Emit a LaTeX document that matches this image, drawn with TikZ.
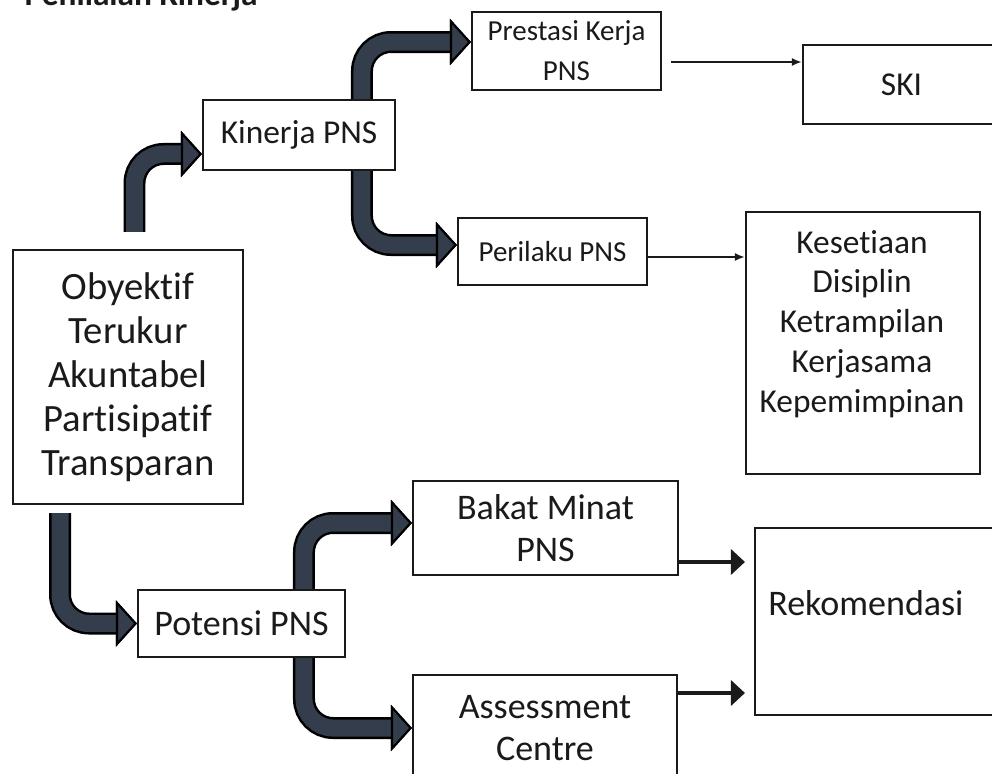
\documentclass[tikz,border=0pt]{standalone}
\usepackage{fontspec}
\setmainfont{Carlito}[Ligatures=NoCommon]
\usetikzlibrary{arrows.meta,positioning,backgrounds}
\definecolor{flowgray}{HTML}{343D4C}
\definecolor{inkblack}{HTML}{1A1A1A}

\tikzset{
  box/.style={rectangle, draw=inkblack, line width=1.2pt, fill=white, align=center, text=inkblack, inner sep=0pt},
  plain/.style={align=center, text=inkblack, inner sep=0pt},
  hugefont/.style={font=\fontsize{22pt}{25pt}\selectfont},
  bigfont/.style={font=\fontsize{20.5pt}{23.5pt}\selectfont},
  midfont/.style={font=\fontsize{19pt}{22.7pt}\selectfont},
  smallfont/.style={font=\fontsize{16.5pt}{22.7pt}\selectfont},
  flowout/.style={line width=0.44cm, draw=black, rounded corners=0.58cm,
    -{Triangle[width=0.92cm,length=0.42cm,line width=1.2pt,color=black,fill=flowgray]}},
  flowin/.style={line width=0.34cm, draw=flowgray, rounded corners=0.58cm,
    -{Triangle[width=0.92cm,length=0.42cm,line width=1.2pt,color=black,fill=flowgray]}},
  thinarrow/.style={draw=inkblack, line width=1.5pt, -{Latex[length=0.2cm,width=0.16cm]}},
  boldarrow/.style={draw=inkblack, line width=2.4pt, -{Triangle[length=0.28cm,width=0.5cm]}}
}

\newcommand\thickflow[3][]{%
  \draw[flowout,#1] #2 |- #3;
  \draw[flowin,#1] #2 |- #3;}

\begin{document}
\begin{tikzpicture}[x=0.02cm, y=-0.02cm]
  \useasboundingbox (0,0) rectangle (992,774);

  % Title (cut off at the top)
  \node[anchor=base east, text=inkblack, inner sep=0pt, font=\fontsize{19pt}{22pt}\selectfont\bfseries] (judul) at (258,6) {Penilaian Kinerja};

  % Boxes
  \node[box, hugefont, minimum width=4.6cm, minimum height=5.08cm] (obyektif) at (128,377) {Obyektif\\Terukur\\Akuntabel\\Partisipatif\\Transparan};
  \node[box, midfont, minimum width=3.84cm, minimum height=1.4cm] (kinerja) at (299,135) {Kinerja PNS};
  \node[box, smallfont, minimum width=3.78cm, minimum height=1.56cm] (prestasi) at (566.5,51) {Prestasi Kerja\\PNS};
  \node[box, smallfont, minimum width=3.78cm, minimum height=1.34cm] (perilaku) at (552.5,251.5) {Perilaku PNS};
  \node[box, midfont, minimum width=3.94cm, minimum height=1.58cm] (ski) at (901.5,84.5) {SKI};
  \node[box, minimum width=4.68cm, minimum height=5.24cm] (kesetiaan) at (863,343) {};
  \node[plain, midfont] (kesetiaanisi) at (862,324) {Kesetiaan\\Disiplin\\Ketrampilan\\Kerjasama\\Kepemimpinan};

  \node[box, bigfont, minimum width=4.14cm, minimum height=1.34cm] (potensi) at (241.5,623.5) {Potensi PNS};
  \node[box, bigfont, minimum width=5.3cm, minimum height=1.88cm] (bakat) at (545.5,528) {Bakat Minat\\PNS};
  \node[box, bigfont, minimum width=5.28cm, minimum height=2.12cm] (assessment) at (545,728) {Assessment\\Centre};
  \node[box, minimum width=4.9cm, minimum height=3.74cm] (rekomendasi) at (877.5,621.5) {};
  \node[plain, bigfont, anchor=west] (rekomendasiisi) at (768,603) {Rekomendasi};

  % Thick flow arrows
  \begin{scope}[on background layer]
    \thickflow[shorten <=0.34cm]{([xshift=0.13cm]obyektif.north)}{([yshift=-0.38cm]kinerja.west)}
    \thickflow{([xshift=1.26cm]kinerja.north)}{([yshift=0.18cm]prestasi.west)}
    \thickflow{([xshift=1.26cm]kinerja.south)}{([yshift=0.13cm]perilaku.west)}
    \thickflow[shorten <=0.16cm]{([xshift=-1.36cm]obyektif.south)}{(potensi.west)}
    \thickflow{([xshift=1.25cm]potensi.north)}{([yshift=0.1cm]bakat.west)}
    \thickflow{([xshift=1.25cm]potensi.south)}{(assessment.west)}
  \end{scope}

  % Thin arrows
  \coordinate (p1) at ([yshift=-0.22cm]prestasi.east);
  \draw[thinarrow, shorten <=0.18cm] (p1) -- (p1 -| ski.west);
  \coordinate (p2) at ([yshift=-0.11cm]perilaku.east);
  \draw[thinarrow] (p2) -- (p2 -| kesetiaan.west);
  \coordinate (p3) at ([yshift=-0.68cm]bakat.east);
  \draw[boldarrow, shorten >=0.18cm] (p3) -- (p3 -| rekomendasi.west);
  \coordinate (p4) at ([yshift=0.7cm]assessment.east);
  \draw[boldarrow, shorten >=0.18cm] (p4) -- (p4 -| rekomendasi.west);
\end{tikzpicture}
\end{document}
